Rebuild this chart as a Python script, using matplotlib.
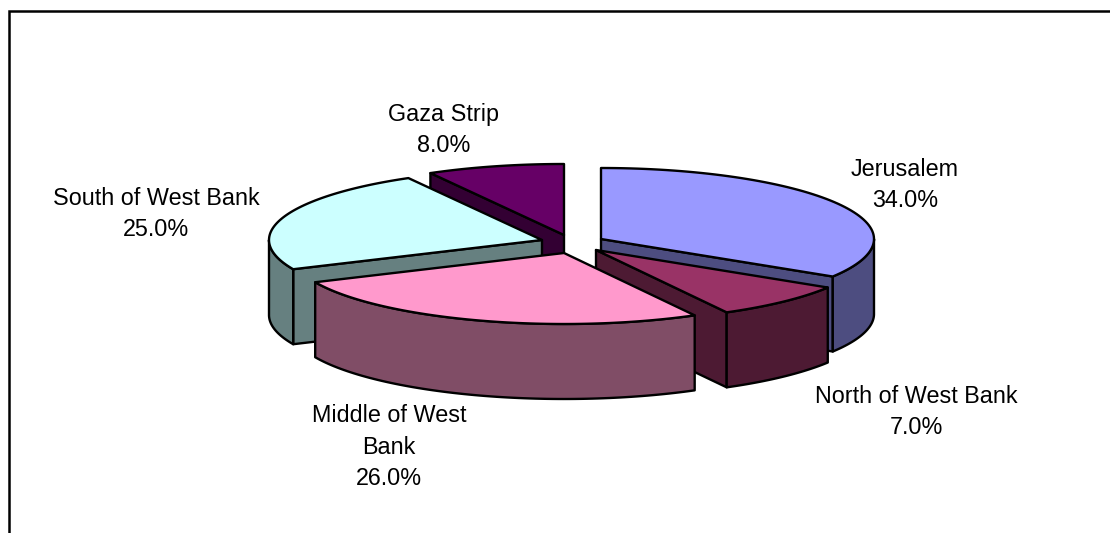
import numpy as np
import matplotlib
matplotlib.use("Agg")
import matplotlib.pyplot as plt
from matplotlib.patches import Polygon

# Data
categories = ["Jerusalem", "North of West Bank", "Middle of West\nBank", "South of West Bank", "Gaza Strip"]
values = [34.0, 7.0, 26.0, 25.0, 8.0]

# Styles and layout (pixel space of the 1110x533 canvas)
top_colors = ["#9999FF", "#993366", "#FF99CC", "#CCFFFF", "#660066"]
side_colors = ["#4D4D80", "#4D1A33", "#804D66", "#668080", "#330033"]
apexes = [(601, 239), (596, 250), (564, 253), (542, 240), (564, 235)]
label_pos = [(905, 185), (916, 412), (389, 447), (156, 214), (444, 130)]
boundary_shift = [0.0, -0.5, 3.8, 4.5, -0.5, 0.0]  # projection distortion in degrees
RX, RY, DEPTH = 273, 71, 75
draw_order = [4, 0, 3, 1, 2]
LW = 1.7

W, H = 1110, 533
fig = plt.figure(figsize=(W / 100, H / 100), dpi=100, facecolor="white")
ax = fig.add_axes([0, 0, 1, 1])
ax.set_xlim(0, W)
ax.set_ylim(H, 0)
ax.axis("off")

ax.plot([8.7, 8.7, 1110], [H, 10.5, 10.5], color="black", lw=1.8, solid_joinstyle="miter")

vals = np.asarray(values, dtype=float)
bounds = np.concatenate([[0], np.cumsum(vals) / vals.sum() * 360]) + np.asarray(boundary_shift)


def arc(cx, cy, a0, a1, dy=0.0, n=80):
    t = np.radians(np.linspace(a0, a1, n))
    return np.column_stack([cx + RX * np.sin(t), cy - RY * np.cos(t) + dy])


def add(pts, color, z):
    ax.add_patch(Polygon(pts, closed=True, facecolor=color, edgecolor="black",
                         lw=LW, joinstyle="round", zorder=z))


for z, i in enumerate(draw_order):
    a0, a1 = bounds[i], bounds[i + 1]
    cx, cy = apexes[i]
    base = 10 * z
    # cut faces that look towards the viewer
    faces = []
    if 180 < a0 < 360:
        faces.append(a0)
    if 0 < a1 < 180:
        faces.append(a1)
    for a in faces:
        e = arc(cx, cy, a, a, n=1)[0]
        add([(cx, cy), e, (e[0], e[1] + DEPTH), (cx, cy + DEPTH)], side_colors[i], base + 1)
    # outer wall: the part of the rim on the near side
    w0, w1 = max(a0, 90), min(a1, 270)
    if w1 > w0:
        up = arc(cx, cy, w0, w1)
        add(np.vstack([up, arc(cx, cy, w0, w1, DEPTH)[::-1]]), side_colors[i], base + 2)
    # top face
    add(np.vstack([[(cx, cy)], arc(cx, cy, a0, a1)]), top_colors[i], base + 3)

for name, v, (x, y) in zip(categories, values, label_pos):
    ax.text(x, y, f"{name}\n{v:.1f}%", ha="center", va="center", multialignment="center",
            fontsize=16.8, family="Liberation Sans", color="black", linespacing=1.46, zorder=200)

fig.savefig("out.png", dpi=100)
